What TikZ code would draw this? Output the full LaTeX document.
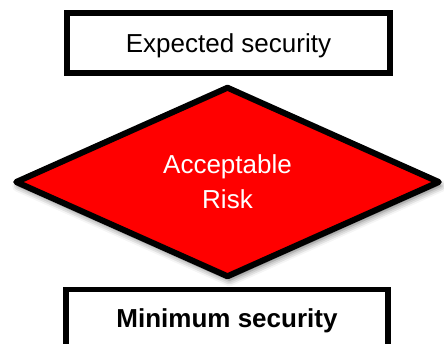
\documentclass[tikz,border=0pt]{standalone}
\usepackage{fontspec}
\setmainfont{Liberation Sans}
\usetikzlibrary{shapes.geometric,shadows.blur}
\begin{document}
\begin{tikzpicture}[x=1pt,y=-1pt,
  levelbox/.style={rectangle, draw=black, line width=5.5pt, fill=white,
    inner sep=0pt, minimum width=323pt, minimum height=60pt,
    font=\fontsize{26}{31}\selectfont, text height=18.5pt, text depth=0pt},
  riskdiamond/.style={diamond, draw=black, line width=6pt, line join=round,
    fill=red, text=white, inner sep=0pt,
    minimum width=425pt, minimum height=191pt,
    align=center, font=\fontsize{26}{35}\selectfont,
    blur shadow={shadow xshift=2pt, shadow yshift=-4pt,
      shadow blur radius=6pt, shadow opacity=60}}]
\useasboundingbox (0,0) rectangle (444,344);
% central decision diamond
\node[riskdiamond] (risk) at (227.5,182) {Acceptable\\Risk};
% upper and lower security levels
\node[levelbox] (expected) at (228.5,43) {Expected security};
\node[levelbox, font=\bfseries\fontsize{26}{31}\selectfont,
      minimum width=322pt, minimum height=57pt] (minimum) at (227,318)
      {Minimum security};
\end{tikzpicture}
\end{document}
